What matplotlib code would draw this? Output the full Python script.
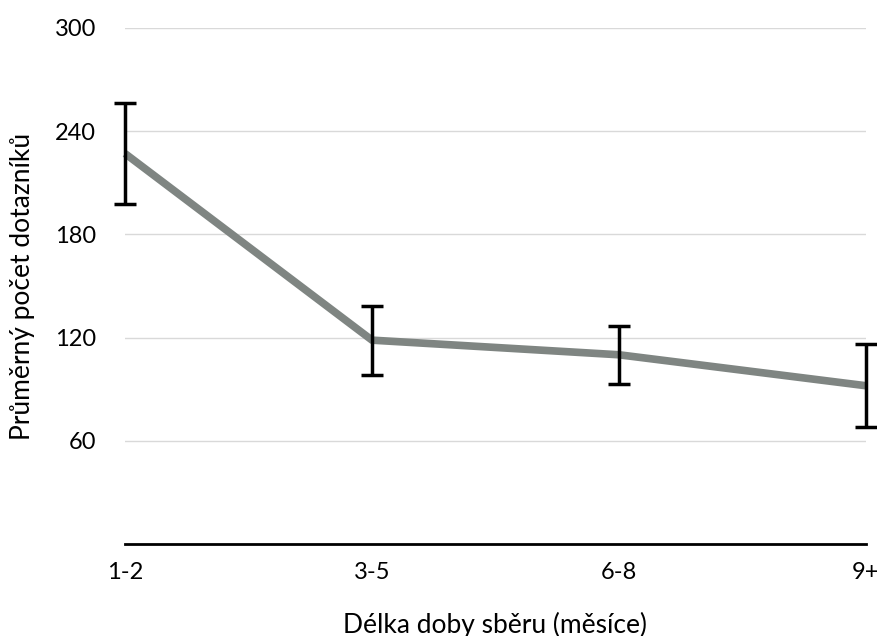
#!/usr/bin/env python

import numpy as np
import matplotlib
matplotlib.use("Agg")
import matplotlib.pyplot as plt

categories = ["1-2", "3-5", "6-8", "9+"]
means = [227, 118.5, 110, 92]
errors = [29.5, 20, 17, 24]
y_ticks = [60, 120, 180, 240, 300]

plt.rcParams['font.family'] = ['Lato', 'DejaVu Sans']

fig = plt.figure(figsize=(8.78, 6.36), dpi=100)
ax = fig.add_axes([0.1424, 0.1447, 0.8439, 0.8113])

x = np.arange(len(categories))
ax.plot(x, means, color="#7f8582", lw=5.5, solid_capstyle="butt", clip_on=False, zorder=3)
ax.errorbar(x, means, yerr=errors, fmt="none", ecolor="black", elinewidth=2.5,
            capsize=8, capthick=2.5, clip_on=False, zorder=4)

ax.set_xlim(0, len(categories) - 1)
ax.set_ylim(0, 300)
ax.set_yticks(y_ticks)
ax.set_xticks(x)
ax.set_xticklabels(categories)
ax.yaxis.grid(True, color="#d9d9d9", lw=1)
ax.set_axisbelow(True)

for s in ["top", "right", "left"]:
    ax.spines[s].set_visible(False)
ax.spines["bottom"].set_linewidth(2)
ax.spines["bottom"].set_color("black")
ax.tick_params(axis="both", length=0, labelsize=17, colors="black")
ax.tick_params(axis="y", pad=21)
ax.tick_params(axis="x", pad=13)

ax.set_xlabel("Délka doby sběru (měsíce)", fontsize=19)
ax.set_ylabel("Průměrný počet dotazníků", fontsize=19)
ax.xaxis.set_label_coords(0.5, -0.131)
ax.yaxis.set_label_coords(-0.121, 0.5)

fig.savefig("out.png", dpi=100)
